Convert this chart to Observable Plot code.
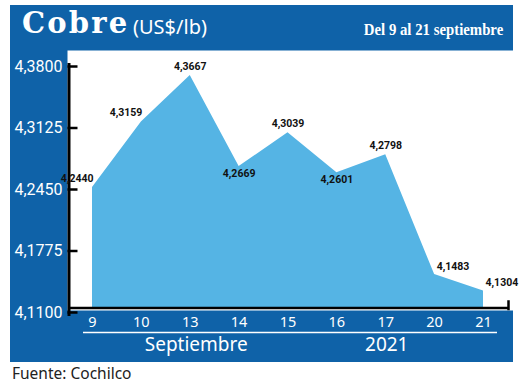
<!DOCTYPE html>
<html>
<head>
<meta charset="utf-8">
<script src="https://cdn.jsdelivr.net/npm/d3@7"></script>
<script src="https://cdn.jsdelivr.net/npm/@observablehq/plot@0.6"></script>
<style>
  html, body { margin: 0; padding: 0; background: #fff; }
  body { width: 520px; height: 390px; position: relative; overflow: hidden; }
  #wrap { position: absolute; left: 10px; top: 5px; width: 503px; background: #0f62a8; }
  #header { position: relative; height: 45px; }
  #header div { position: absolute; line-height: 1; color: #fff; white-space: nowrap; }
  #t1 { left: 12px; top: 4px; font-family: "DejaVu Serif", serif; font-weight: bold; font-size: 29px; letter-spacing: 2.2px; }
  #t2 { left: 123px; top: 11.5px; font-family: "Noto Sans", sans-serif; font-size: 20px; }
  #t3 { right: 10px; top: 16px; font-family: "Liberation Serif", serif; font-weight: bold; font-size: 17px; transform: scaleX(0.87); transform-origin: right center; }
  #chart svg { display: block; }
  #source { position: absolute; left: 12px; top: 366px; line-height: 1; font-family: "Noto Sans", sans-serif; font-size: 15.5px; color: #222; }
  g[aria-label="value label"] text { letter-spacing: -0.9px; }
</style>
</head>
<body>
<div id="wrap">
  <div id="header">
    <div id="t1">Cobre</div>
    <div id="t2">(US$/lb)</div>
    <div id="t3">Del 9 al 21 septiembre</div>
  </div>
  <div id="chart"></div>
</div>
<div id="source">Fuente: Cochilco</div>
<script>
const days = ["9", "10", "13", "14", "15", "16", "17", "20", "21"];
const prices = [4.2440, 4.3159, 4.3667, 4.2669, 4.3039, 4.2601, 4.2798, 4.1483, 4.1304];
const yTicks = [4.11, 4.1775, 4.245, 4.3125, 4.38];
const groupLabels = ["Septiembre", "2021"];
const groupAt = ["13", "17"];

const rows = days.map((day, i) => ({i, day, price: prices[i]}));
const fmt = v => v.toFixed(4).replace(".", ",");
const yMin = yTicks[0], yMax = yTicks[yTicks.length - 1];
const firstDay = days[0], lastDay = days[days.length - 1];

const BLUE = "#0f62a8";
const AREA = "#55b4e4";
const W = 503, H = 312, ML = 57, MB = 52;
const frameW = W - ML, frameH = H - MB;

const labelBase = {x: "day", y: "price", text: d => fmt(d.price), fill: "#111", fontSize: 10.5, fontWeight: "bold", fontFamily: "Roboto, sans-serif", ariaLabel: "value label"};
const groupBase = {x: "day", text: "label", frameAnchor: "bottom", dy: 40, fill: "#fff", fontSize: 19, fontFamily: "'Noto Sans', sans-serif"};

const chart = Plot.plot({
  width: W,
  height: H,
  marginLeft: ML,
  marginRight: 0,
  marginTop: 0,
  marginBottom: MB,
  style: {background: BLUE, overflow: "visible"},
  x: {type: "point", domain: days, range: [82, 473], padding: 0, round: false},
  y: {domain: [yMin, yMax], range: [259, 13]},
  marks: [
    Plot.frame({fill: "#fff", stroke: null}),
    Plot.areaY(rows, {x: "day", y1: yMin, y2: "price", fill: AREA}),
    // y axis line along the left edge of the frame
    Plot.frame({anchor: "left", stroke: "#000", strokeWidth: 3, dx: 1.5, insetTop: 14, insetBottom: -4}),
    // y ticks pointing inward
    Plot.tickY(yTicks, {y: d => d, dy: 3, dx: 0.5, insetRight: frameW - 10, stroke: "#000", strokeWidth: 2.5}),
    // baseline with a small end tick
    Plot.ruleY([yMin], {dy: -1.5, dx: 1, insetRight: 5, stroke: "#000", strokeWidth: 2.5}),
    Plot.frame({anchor: "right", stroke: "#000", strokeWidth: 2.5, insetRight: 5, insetTop: frameH - 9, insetBottom: 1.5}),
    // white underline beneath the day labels
    Plot.ruleY([yMin], {x1: () => firstDay, x2: () => lastDay, dy: 23, insetLeft: -9, insetRight: -14, stroke: "#fff", strokeWidth: 1.5}),
    Plot.axisY({ticks: yTicks, tickFormat: fmt, tickSize: 0, tickPadding: 5, dy: 3, color: "#fff", fontSize: 16, fontFamily: "Roboto, sans-serif", label: null}),
    Plot.axisX({tickSize: 0, tickPadding: 6, color: "#fff", fontSize: 14.5, fontFamily: "'Noto Sans', sans-serif", label: null}),
    Plot.text(rows.filter(d => [0, 1].includes(d.i)), {...labelBase, textAnchor: "end", dx: 1, dy: -9}),
    Plot.text(rows.filter(d => [2, 4, 6].includes(d.i)), {...labelBase, textAnchor: "middle", dy: -9}),
    Plot.text(rows.filter(d => [3, 5].includes(d.i)), {...labelBase, textAnchor: "middle", dy: 7}),
    Plot.text(rows.filter(d => [7, 8].includes(d.i)), {...labelBase, textAnchor: "start", dx: 2, dy: -8}),
    Plot.text([{label: groupLabels[0], day: groupAt[0]}], {...groupBase, dx: 6}),
    Plot.text([{label: groupLabels[1], day: groupAt[1]}], {...groupBase, dx: 1})
  ]
});
document.getElementById("chart").append(chart);
</script>
</body>
</html>
